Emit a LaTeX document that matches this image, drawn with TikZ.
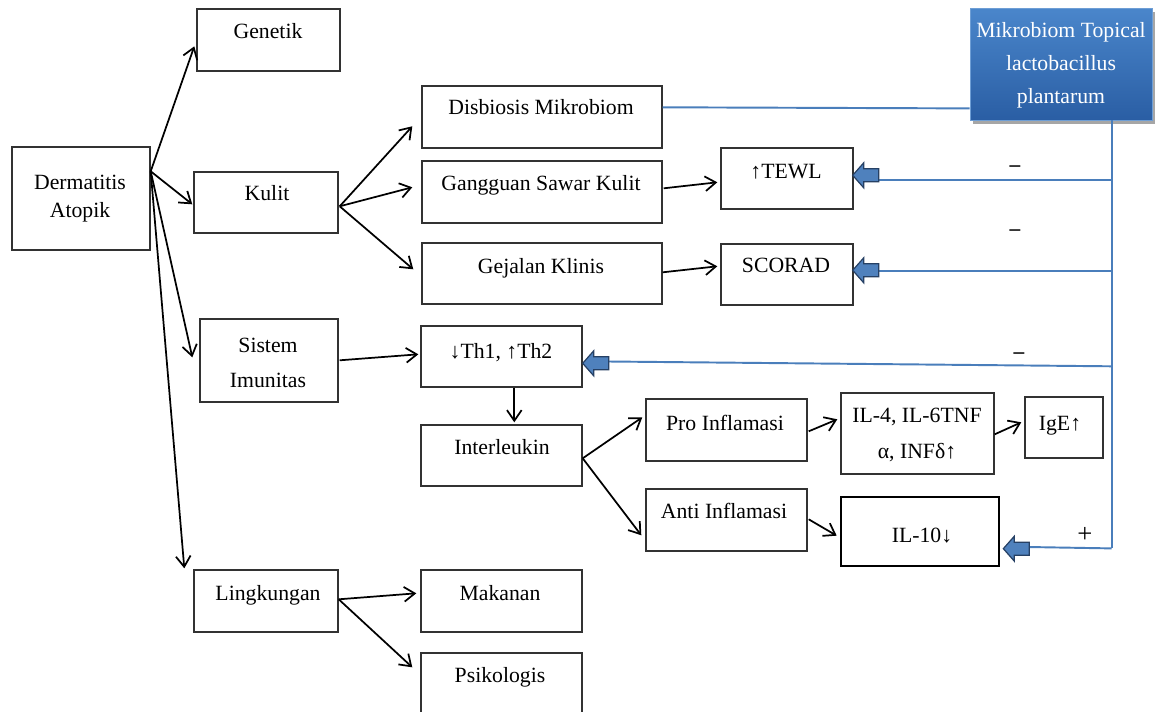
\documentclass[tikz,border=0pt]{standalone}
\usepackage{fontspec}
\setmainfont{Liberation Serif}
\usetikzlibrary{arrows.meta,calc,fit,shadows}
\definecolor{lineblue}{RGB}{74,126,187}
\definecolor{bafill}{RGB}{79,129,189}
\definecolor{baedge}{RGB}{38,64,100}
\definecolor{mtop}{RGB}{74,134,203}
\definecolor{mbot}{RGB}{42,94,164}
\definecolor{boxgray}{RGB}{50,50,50}
\tikzset{
  box/.style={draw=boxgray, line width=1.05pt, inner sep=0pt, rectangle},
  lbl/.style={inner sep=0pt, font=\fontsize{16.3}{19}\selectfont},
  arr/.style={line width=1.3pt, -{Straight Barb[length=8pt,width=11pt,line width=1.3pt]}},
  bline/.style={draw=lineblue, line width=1.45pt},
  sign/.style={inner sep=0pt, font=\fontsize{16}{19}\selectfont\bfseries},
  pics/barr/.style={code={
    \draw[fill=bafill, draw=baedge, line width=0.9pt, line join=miter]
      (0,0) -- (11,-12.5) -- (11,-6.5) -- (26,-6.5) -- (26,6.5) -- (11,6.5) -- (11,12.5) -- cycle;
    \coordinate (-tail) at (26,0);
  }},
}
\begin{document}
\begin{tikzpicture}[x=0.75pt,y=-0.75pt]
\fill[white] (0,0) rectangle (1160,711);
\clip (0,0) rectangle (1160,711);

% boxes
\node[box, fit={(197,9) (340,71)}] (gen) {};
\node[box, fit={(12,147) (150,250)}] (derm) {};
\node[box, fit={(194,172) (338,233)}] (kulit) {};
\node[box, fit={(200,319) (338,402)}] (sis) {};
\node[box, fit={(194,570) (338,632)}] (ling) {};
\node[box, fit={(422,86) (662,148)}] (dis) {};
\node[box, fit={(422,161) (662,223)}] (gang) {};
\node[box, fit={(422,243) (662,304)}] (gej) {};
\node[box, fit={(721,148) (853,209)}] (tewl) {};
\node[box, fit={(721,244) (853,305)}] (scor) {};
\node[box, fit={(421,326) (582,387)}] (th) {};
\node[box, fit={(421,425) (582,486)}] (il) {};
\node[box, fit={(421,570) (582,632)}] (mak) {};
\node[box, fit={(421,653) (582,745)}] (psi) {};
\node[box, fit={(646,399) (807,461)}] (pro) {};
\node[box, fit={(646,489) (807,551)}] (anti) {};
\node[box, fit={(841,393) (994,474)}] (il4) {};
\node[box, fit={(1025,397) (1103,458)}] (ige) {};
\node[box, fit={(841,497) (999,566)}, draw=black, line width=2pt] (il10) {};
\node[fit={(970,8) (1152,120)}, inner sep=0pt, top color=mtop, bottom color=mbot,
      draw=mtop!80!white, line width=0.6pt,
      drop shadow={shadow xshift=2.5pt, shadow yshift=-3pt, opacity=0.35, fill=black}] (mikro) {};

% texts
\node[lbl, anchor=base] (genT) at (268,38) {Genetik};
\node[lbl, align=center, font=\fontsize{16.3}{20.5}\selectfont] (dermT) at (80,198.5) {Dermatitis\\Atopik};
\node[lbl, anchor=base] (kulitT) at (267,200) {Kulit};
\node[lbl, align=center, font=\fontsize{16.3}{26.25}\selectfont] (sisT) at (268,363) {Sistem\\Imunitas};
\node[lbl, anchor=base] (lingT) at (268,600) {Lingkungan};
\node[lbl, anchor=base] (makT) at (500,600) {Makanan};
\node[lbl, anchor=base] (psiT) at (500,682) {Psikologis};
\node[lbl, anchor=base] (disT) at (541,114) {Disbiosis Mikrobiom};
\node[lbl, anchor=base] (gangT) at (541,190) {Gangguan Sawar Kulit};
\node[lbl, anchor=base] (gejT) at (541,273) {Gejalan Klinis};
\node[lbl, anchor=base] (tewlT) at (786,178) {↑TEWL};
\node[lbl, anchor=base] (scorT) at (786,272) {SCORAD};
\node[lbl, anchor=base] (thT) at (501,358) {↓Th1, ↑Th2};
\node[lbl, anchor=base] (ilT) at (502,454) {Interleukin};
\node[lbl, anchor=base] (proT) at (725,430) {Pro Inflamasi};
\node[lbl, anchor=base] (antiT) at (724,518) {Anti Inflamasi};
\node[lbl, align=center, font=\fontsize{16.3}{27}\selectfont] (il4T) at (917,435) {IL-4, IL-6TNF\\α, INFδ↑};
\node[lbl, anchor=base] (igeT) at (1060,430) {IgE↑};
\node[lbl, anchor=base] (il10T) at (922,542) {IL-10↓};
\node[lbl, align=center, text=white, font=\fontsize{16.3}{24.75}\selectfont] (mikroT) at (1061,65) {Mikrobiom Topical\\lactobacillus\\plantarum};

% black arrows
\draw[arr] ($(derm.north east)+(0,25)$) -- ($(gen.north west)+(-2,38)$);
\draw[arr] ($(derm.north east)+(0,25)$) -- ($(kulit.north west)+(-1,33)$);
\draw[arr] ($(derm.north east)+(0,25)$) -- ($(sis.north west)+(-7,39)$);
\draw[arr] ($(derm.north east)+(0,25)$) -- ($(ling.north west)+(-9,-1)$);
\draw[arr] ($(kulit.north east)+(1,35)$) -- ($(dis.north west)+(-9,41)$);
\draw[arr] ($(kulit.north east)+(1,35)$) -- ($(gang.north west)+(-9,27)$);
\draw[arr] ($(kulit.north east)+(1,35)$) -- ($(gej.north west)+(-8,27)$);
\draw[arr] ($(sis.north east)+(1,42)$) -- ($(th.north west)+(-2,29)$);
\draw[arr] ($(th.south west)+(94,0)$) -- ($(il.north west)+(94,-2)$);
\draw[arr] ($(gang.north east)+(1,28)$) -- ($(tewl.north west)+(-3,35)$);
\draw[arr] ($(gej.north east)+(0,30)$) -- ($(scor.north west)+(-3,23)$);
\draw[arr] ($(il.north east)+(0,34)$) -- ($(pro.north west)+(-3,19)$);
\draw[arr] ($(il.north east)+(0,34)$) -- ($(anti.north west)+(-4,47)$);
\draw[arr] ($(pro.north east)+(1,33)$) -- ($(il4.north west)+(-3,27)$);
\draw[arr] ($(il4.north east)+(0,42)$) -- ($(ige.north west)+(-3,26)$);
\draw[arr] ($(anti.north east)+(1,31)$) -- ($(il10.north west)+(-3,40)$);
\draw[arr] ($(ling.north east)+(0,30)$) -- ($(mak.north west)+(-4,24)$);
\draw[arr] ($(ling.north east)+(0,30)$) -- ($(psi.north west)+(-8,15)$);

% blue lines
\coordinate (vtop) at ($(mikro.south west)+(142,0)$);
\coordinate (vbot) at ($(vtop)+(0,428)$);
\draw[bline] ($(dis.north east)+(0,22)$) -- ($(mikro.south west)+(0,-12)$);
\draw[bline] (vtop) -- (vbot);

\coordinate (t1) at ($(tewl.north east)+(4,33)$);
\coordinate (t2) at ($(scor.north east)+(4,28)$);
\coordinate (t3) at ($(th.north east)+(5,36)$);
\coordinate (t4) at ($(il10.north east)+(8,51)$);
\draw[bline] (t1) -- (t1 -| vtop);
\draw[bline] (t2) -- (t2 -| vtop);
\draw[bline] (t3) -- ($(t3 -| vtop)+(0,5)$);
\draw[bline] (t4) -- (vbot);

\pic (ba1) at ($(tewl.north east)+(-1,28)$) {barr};
\pic (ba2) at ($(scor.north east)+(-1,27)$) {barr};
\pic (ba3) at ($(th.north east)+(0,38)$) {barr};
\pic (ba4) at ($(il10.north east)+(3,53)$) {barr};

% signs
\node[sign] (m1) at (1015,169) {–};
\node[sign] (m2) at (1015,233) {–};
\node[sign] (m3) at (1019,356) {–};
\node[sign, font=\fontsize{20}{22}\selectfont] (p1) at (1085,535) {+};
\end{tikzpicture}
\end{document}
